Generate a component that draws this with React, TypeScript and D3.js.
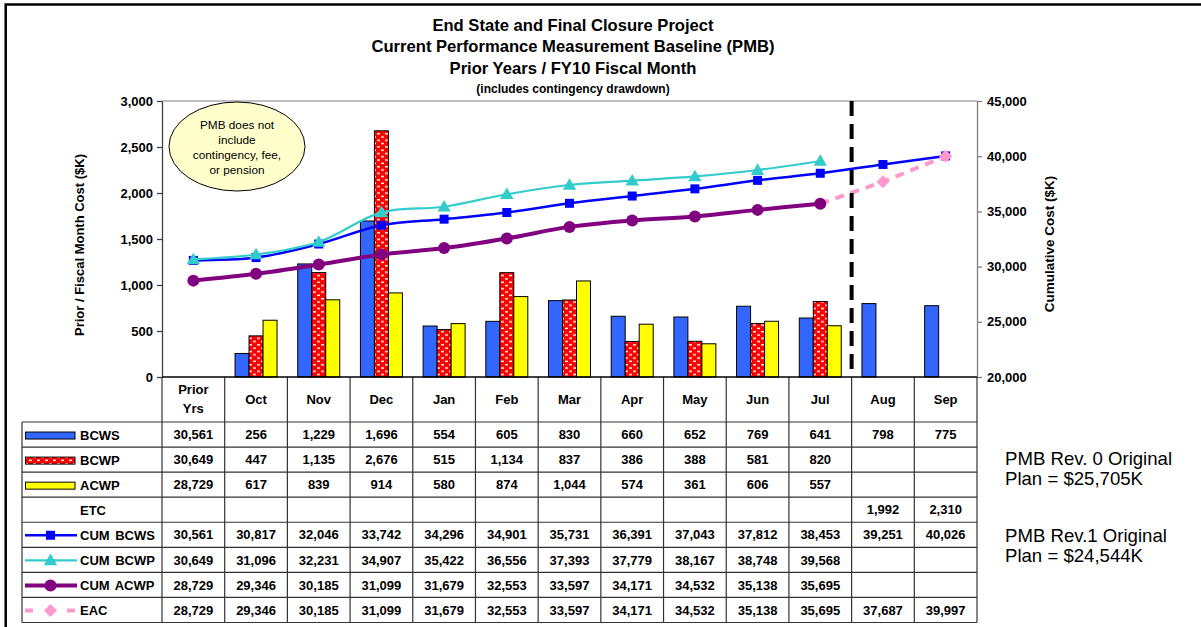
import * as d3 from 'd3';
import React, { useEffect, useRef } from 'react';

const categories = ['Prior Yrs', 'Oct', 'Nov', 'Dec', 'Jan', 'Feb', 'Mar', 'Apr', 'May', 'Jun', 'Jul', 'Aug', 'Sep'];

// monthly values (first entry = prior years total, shown only in the table)
const bcws = [30561, 256, 1229, 1696, 554, 605, 830, 660, 652, 769, 641, 798, 775];
const bcwp = [30649, 447, 1135, 2676, 515, 1134, 837, 386, 388, 581, 820, null, null];
const acwp = [28729, 617, 839, 914, 580, 874, 1044, 574, 361, 606, 557, null, null];
const etc = [null, null, null, null, null, null, null, null, null, null, null, 1992, 2310];

// cumulative values
const cumBcws = [30561, 30817, 32046, 33742, 34296, 34901, 35731, 36391, 37043, 37812, 38453, 39251, 40026];
const cumBcwp = [30649, 31096, 32231, 34907, 35422, 36556, 37393, 37779, 38167, 38748, 39568, null, null];
const cumAcwp = [28729, 29346, 30185, 31099, 31679, 32553, 33597, 34171, 34532, 35138, 35695, null, null];
const eac = [28729, 29346, 30185, 31099, 31679, 32553, 33597, 34171, 34532, 35138, 35695, 37687, 39997];

const leftTicks = [0, 500, 1000, 1500, 2000, 2500, 3000];
const rightTicks = [20000, 25000, 30000, 35000, 40000, 45000];

const titleLines = [
  'End State and Final Closure Project',
  'Current Performance Measurement Baseline (PMB)',
  'Prior Years / FY10 Fiscal Month',
];
const subtitle = '(includes contingency drawdown)';
const calloutLines = ['PMB does not', 'include', 'contingency, fee,', 'or pension'];
const noteLines = ['PMB Rev. 0 Original', 'Plan = $25,705K', 'PMB Rev.1 Original', 'Plan = $24,544K'];

type Val = number | null;

const App: React.FC = () => {
  const ref = useRef<SVGSVGElement | null>(null);

  useEffect(() => {
    const width = 1201;
    const height = 627;
    const left = 162, right = 977, top = 101, bottom = 377;
    const headBottom = 422, rowH = 25.06, tableLeft = 22;
    const font = '"Liberation Sans", Arial, sans-serif';

    const svg = d3.select(ref.current);
    svg.selectAll('*').remove();
    svg.attr('width', width).attr('height', height).style('font-family', font);

    const defs = svg.append('defs');
    const pat = defs.append('pattern')
      .attr('id', 'bcwpPat')
      .attr('patternUnits', 'userSpaceOnUse')
      .attr('width', 8)
      .attr('height', 6.6);
    pat.append('rect').attr('width', 8).attr('height', 6.6).attr('fill', '#ff0000');
    pat.append('rect').attr('x', 1).attr('y', 1).attr('width', 3).attr('height', 1.4).attr('fill', '#fff');
    pat.append('rect').attr('x', 5).attr('y', 4.3).attr('width', 3).attr('height', 1.4).attr('fill', '#fff');

    svg.append('rect').attr('width', width).attr('height', height).attr('fill', '#fff');

    // outer frame (top and left only are visible)
    svg.append('path')
      .attr('d', `M5.7,${height} V4.5 H${width}`)
      .attr('fill', 'none')
      .attr('stroke', '#000')
      .attr('stroke-width', 2.5);

    const x = d3.scaleBand<string>().domain(categories).range([left, right]);
    const sub = d3.scaleBand<string>().domain(['BCWS', 'BCWP', 'ACWP']).range([0, x.bandwidth()]).paddingOuter(0.74);
    const yL = d3.scaleLinear().domain([0, 3000]).range([bottom, top]);
    const yR = d3.scaleLinear().domain([20000, 45000]).range([bottom, top]);
    const cx = (i: number) => (x(categories[i]) as number) + x.bandwidth() / 2;

    // titles
    const title = svg.append('g').attr('text-anchor', 'middle').attr('font-weight', 'bold').attr('fill', '#000');
    [31, 52, 74].forEach((yy, i) => {
      title.append('text').attr('x', 573).attr('y', yy).attr('font-size', 16.6).text(titleLines[i]);
    });
    title.append('text').attr('x', 573).attr('y', 93).attr('font-size', 12).text(subtitle);

    // plot top border
    svg.append('line')
      .attr('x1', left).attr('x2', right).attr('y1', top).attr('y2', top)
      .attr('stroke', '#808080').attr('stroke-width', 1);

    // axes
    const axL = svg.append('g')
      .attr('transform', `translate(${left},0)`)
      .call(d3.axisLeft(yL).tickValues(leftTicks).tickSize(5).tickSizeOuter(0).tickPadding(4).tickFormat(d3.format(',')));
    const axR = svg.append('g')
      .attr('transform', `translate(${right},0)`)
      .call(d3.axisRight(yR).tickValues(rightTicks).tickSize(5).tickSizeOuter(0).tickPadding(5).tickFormat(d3.format(',')));
    [axL, axR].forEach((ax, k) => {
      ax.select('.domain').attr('stroke', k === 0 ? '#404040' : '#808080').attr('stroke-width', 1.3);
      ax.selectAll('.tick line').attr('stroke', k === 0 ? '#404040' : '#808080').attr('stroke-width', 1.3);
      ax.selectAll('.tick text')
        .attr('font-size', 13).attr('font-weight', 'bold').attr('fill', '#000')
        .attr('font-family', font);
    });

    svg.append('text')
      .attr('transform', 'translate(83.7,245) rotate(-90)')
      .attr('text-anchor', 'middle').attr('font-size', 13).attr('font-weight', 'bold')
      .text('Prior / Fiscal Month Cost ($K)');
    svg.append('text')
      .attr('transform', 'translate(1053.7,244) rotate(-90)')
      .attr('text-anchor', 'middle').attr('font-size', 13.5).attr('font-weight', 'bold')
      .text('Cumulative Cost ($K)');

    // bars (months only; prior years total is table-only)
    const barSeries: { key: string; values: Val[]; fill: string }[] = [
      { key: 'BCWS', values: bcws, fill: '#3366ff' },
      { key: 'BCWP', values: bcwp, fill: 'url(#bcwpPat)' },
      { key: 'ACWP', values: acwp, fill: '#ffff00' },
    ];
    const bars = svg.append('g');
    barSeries.forEach((s) => {
      bars.selectAll(`rect.${s.key}`)
        .data(s.values.map((v, i) => ({ v, i })).filter((d) => d.i > 0 && d.v != null))
        .enter()
        .append('rect')
        .attr('x', (d) => (x(categories[d.i]) as number) + (sub(s.key) as number))
        .attr('y', (d) => yL(d.v as number))
        .attr('width', sub.bandwidth())
        .attr('height', (d) => bottom - yL(d.v as number))
        .attr('fill', s.fill)
        .attr('stroke', '#000')
        .attr('stroke-width', 1);
    });

    // cumulative lines
    const pts = (vals: Val[], from = 0) =>
      vals.map((v, i) => ({ v, i })).filter((d) => d.v != null && d.i >= from);
    const smooth = d3.line<{ v: Val; i: number }>()
      .x((d) => cx(d.i))
      .y((d) => yR(d.v as number))
      .curve(d3.curveCatmullRom.alpha(0.5));
    const straight = d3.line<{ v: Val; i: number }>()
      .x((d) => cx(d.i))
      .y((d) => yR(d.v as number));

    const sym = (type: d3.SymbolType, size: number) => d3.symbol().type(type).size(size)() as string;
    const marker = (g: d3.Selection<SVGGElement, unknown, null, undefined>, shape: string, px: number, py: number, color: string) => {
      if (shape === 'square') g.append('path').attr('d', sym(d3.symbolSquare, 81)).attr('transform', `translate(${px},${py})`).attr('fill', color);
      if (shape === 'triangle') g.append('path').attr('d', sym(d3.symbolTriangle, 78)).attr('transform', `translate(${px},${py + 1})`).attr('fill', color);
      if (shape === 'circle') g.append('circle').attr('cx', px).attr('cy', py).attr('r', 6).attr('fill', color);
      if (shape === 'diamond') g.append('path').attr('d', sym(d3.symbolSquare, 85)).attr('transform', `translate(${px},${py}) rotate(45)`).attr('fill', color);
    };

    const lines = svg.append('g');
    // EAC plotted from the last actual month onward
    const lastActual = d3.max(cumAcwp.map((v, i) => (v != null ? i : -1))) as number;
    const lineSeries = [
      { values: cumBcws, color: '#0000ff', w: 2.5, shape: 'square', dash: null, from: 0, gen: smooth },
      { values: cumBcwp, color: '#33cccc', w: 2.2, shape: 'triangle', dash: null, from: 0, gen: smooth },
      { values: eac, color: '#ff99cc', w: 4, shape: 'diamond', dash: '9 7', from: lastActual, gen: straight },
      { values: cumAcwp, color: '#800080', w: 4, shape: 'circle', dash: null, from: 0, gen: smooth },
    ];
    lineSeries.forEach((s) => {
      const g = lines.append('g');
      const p = pts(s.values, s.from);
      g.append('path')
        .attr('d', s.gen(p))
        .attr('fill', 'none')
        .attr('stroke', s.color)
        .attr('stroke-width', s.w)
        .attr('stroke-dasharray', s.dash);
      p.filter((d) => d.i > s.from || s.from === 0).forEach((d) => marker(g, s.shape, cx(d.i), yR(d.v as number), s.color));
    });

    // callout
    svg.append('ellipse')
      .attr('cx', 237).attr('cy', 146.5).attr('rx', 68).attr('ry', 44.5)
      .attr('fill', '#ffffcc').attr('stroke', '#000').attr('stroke-width', 1);
    calloutLines.forEach((t, i) => {
      svg.append('text')
        .attr('x', 237).attr('y', 129 + i * 15)
        .attr('text-anchor', 'middle').attr('font-size', 11.8).attr('fill', '#000')
        .text(t);
    });

    // data table
    const tbl = svg.append('g');
    const fmt = d3.format(',');
    const rows: { label: string; values: Val[]; kind: string; fill?: string; color?: string; shape?: string; w?: number; dash?: string }[] = [
      { label: 'BCWS', values: bcws, kind: 'bar', fill: '#3366ff' },
      { label: 'BCWP', values: bcwp, kind: 'bar', fill: 'url(#bcwpPat)' },
      { label: 'ACWP', values: acwp, kind: 'bar', fill: '#ffff00' },
      { label: 'ETC', values: etc, kind: 'none' },
      { label: 'CUM BCWS', values: cumBcws, kind: 'line', color: '#0000ff', shape: 'square', w: 2.5 },
      { label: 'CUM BCWP', values: cumBcwp, kind: 'line', color: '#33cccc', shape: 'triangle', w: 2.2 },
      { label: 'CUM ACWP', values: cumAcwp, kind: 'line', color: '#800080', shape: 'circle', w: 4 },
      { label: 'EAC', values: eac, kind: 'line', color: '#ff99cc', shape: 'diamond', w: 4, dash: '8 13' },
    ];
    const tableBottom = headBottom + rows.length * rowH;
    const gridColor = '#333';

    // header labels
    categories.forEach((c, i) => {
      const words = c.split(' ');
      const t = tbl.append('text')
        .attr('text-anchor', 'middle').attr('font-size', 13).attr('font-weight', 'bold');
      if (words.length > 1) {
        words.forEach((w, k) => t.append('tspan').attr('x', cx(i)).attr('y', 393.5 + k * 19).text(w));
      } else {
        t.attr('x', cx(i)).attr('y', 403.5).text(c);
      }
    });

    rows.forEach((r, ri) => {
      const rc = headBottom + ri * rowH + rowH / 2;
      r.values.forEach((v, i) => {
        if (v == null) return;
        tbl.append('text')
          .attr('x', cx(i)).attr('y', rc + 4.7)
          .attr('text-anchor', 'middle').attr('font-size', 13).attr('font-weight', 'bold')
          .text(fmt(v));
      });
      tbl.append('text')
        .attr('x', 80).attr('y', rc + 5)
        .attr('font-size', 13).attr('font-weight', 'bold')
        .attr('word-spacing', 2)
        .text(r.label);
      if (r.kind === 'bar') {
        tbl.append('rect')
          .attr('x', 25.5).attr('y', rc - 2.5).attr('width', 49.5).attr('height', 7)
          .attr('fill', r.fill as string).attr('stroke', '#000').attr('stroke-width', 1);
      } else if (r.kind === 'line') {
        const g = tbl.append('g') as unknown as d3.Selection<SVGGElement, unknown, null, undefined>;
        g.append('line')
          .attr('x1', 25).attr('x2', 77).attr('y1', rc + 0.5).attr('y2', rc + 0.5)
          .attr('stroke', r.color as string).attr('stroke-width', r.w as number)
          .attr('stroke-dasharray', r.dash ?? null);
        marker(g, r.shape as string, 50.5, rc + 0.5, r.color as string);
      }
    });

    // grid
    const hLines = d3.range(rows.length + 1).map((k) => headBottom + k * rowH);
    hLines.forEach((yy) => {
      tbl.append('line').attr('x1', tableLeft).attr('x2', right).attr('y1', yy).attr('y2', yy)
        .attr('stroke', gridColor).attr('stroke-width', 1.2);
    });
    categories.forEach((c) => {
      const xx = x(c) as number;
      tbl.append('line').attr('x1', xx).attr('x2', xx).attr('y1', bottom).attr('y2', tableBottom)
        .attr('stroke', gridColor).attr('stroke-width', 1.2);
    });
    tbl.append('line').attr('x1', right).attr('x2', right).attr('y1', bottom).attr('y2', tableBottom)
      .attr('stroke', gridColor).attr('stroke-width', 1.2);
    tbl.append('line').attr('x1', tableLeft).attr('x2', tableLeft).attr('y1', headBottom).attr('y2', tableBottom)
      .attr('stroke', gridColor).attr('stroke-width', 1.2);
    // category axis line
    svg.append('line').attr('x1', left).attr('x2', right).attr('y1', bottom).attr('y2', bottom)
      .attr('stroke', '#000').attr('stroke-width', 1.3);

    // forecast divider (between last actual month and first forecast month)
    const divX = x(categories[lastActual + 1]) as number;
    svg.append('line')
      .attr('x1', divX).attr('x2', divX).attr('y1', top).attr('y2', 370)
      .attr('stroke', '#000').attr('stroke-width', 4).attr('stroke-dasharray', '15 8');

    // notes on the right
    noteLines.forEach((t, i) => {
      svg.append('text')
        .attr('x', 1005).attr('y', [465, 485, 542, 562][i])
        .attr('font-size', 18.6).attr('fill', '#000')
        .text(t);
    });
  }, []);

  return (
    <div style={{ position: 'absolute', left: 0, top: 0 }}>
      <svg ref={ref}></svg>
    </div>
  );
};

export default App;
